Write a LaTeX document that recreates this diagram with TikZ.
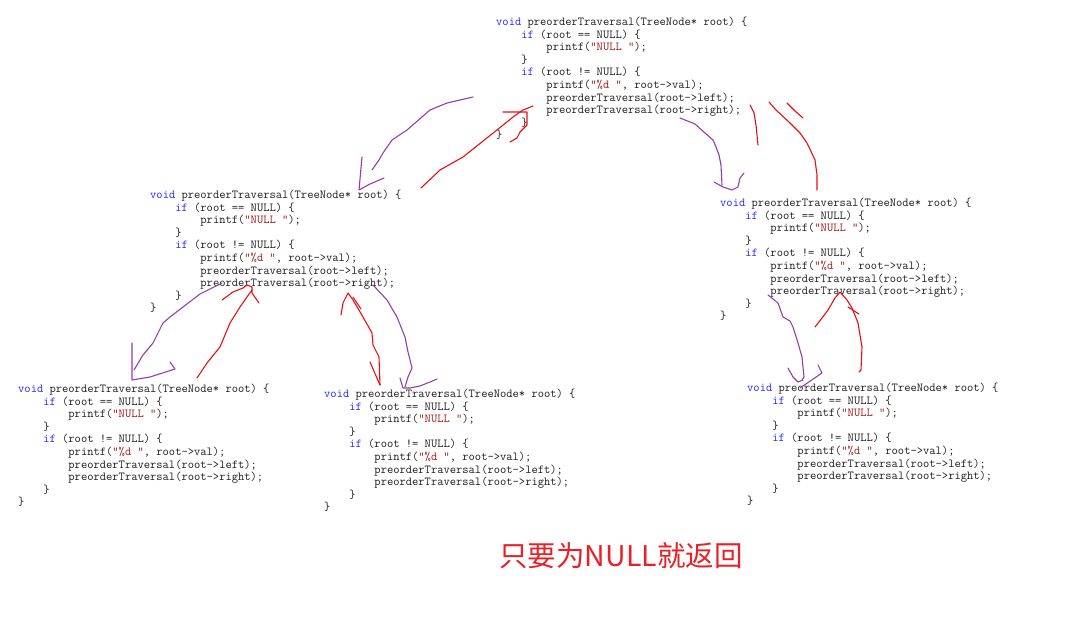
\documentclass[tikz,border=0pt]{standalone}
\usepackage{fontspec}
\newfontfamily\cjk{Noto Sans CJK SC}
\usetikzlibrary{positioning}

\definecolor{kwblue}{RGB}{40,40,250}
\definecolor{strred}{RGB}{165,25,25}
\definecolor{codegray}{RGB}{30,30,30}
\definecolor{penpurple}{RGB}{150,60,170}
\definecolor{penred}{RGB}{238,12,20}
\definecolor{notered}{RGB}{232,32,40}

\newcommand\kw[1]{\textcolor{kwblue}{#1}}
\newcommand\str[1]{\textcolor{strred}{#1}}
\newcommand\ind{\phantom{xxxx}}
\newcommand\preorderbody{%
  \kw{void} preorderTraversal(TreeNode* root) \{\\
  \ind\kw{if} (root == NULL) \{\\
  \ind\ind printf(\str{"NULL "});\\
  \ind\}\\
  \ind\kw{if} (root != NULL) \{\\
  \ind\ind printf(\str{"\%d "}, root->val);\\
  \ind\ind preorderTraversal(root->left);\\
  \ind\ind preorderTraversal(root->right);\\
  \ind\}\\
  \}}

\tikzset{
  % base of a multi-line node is its last line: shift by 9 lines
  code/.style={anchor=base west, yshift=-113.4pt, align=left, inner sep=0pt, text=codegray,
    font=\ttfamily\fontsize{12.2}{12.6}\selectfont},
  purplepen/.style={penpurple, line width=1.1pt, line join=round, line cap=round},
  redpen/.style={penred, line width=1.1pt, line join=round, line cap=round},
}

\begin{document}
\begin{tikzpicture}[x=1pt, y=-1pt]
\useasboundingbox[fill=white] (0,0) rectangle (1079,628);

% one copy of the function per call
\node[code] (root)       at (496,25.5)  {\preorderbody};
\node[code] (left)       at (150,198.5) {\preorderbody};
\node[code] (right)      at (720,206.5) {\preorderbody};
\node[code] (leftleft)   at (18,392.5)  {\preorderbody};
\node[code] (leftright)  at (324,397.5) {\preorderbody};
\node[code] (rightright) at (747,391.5) {\preorderbody};

\node[text=notered, font=\cjk\fontsize{28.5}{30}\selectfont] (note) at (621,556) {只要为NULL就返回};

% root -> left, and back
\draw[purplepen] (473,97) \foreach \x/\y in {447/103, 430/110, 407/130, 392/140, 383/153, 379/160, 372/170} { -- (\x,\y) };
\draw[purplepen] (362,157) \foreach \x/\y in {359/190, 370/184, 384/178} { -- (\x,\y) };
\draw[redpen] (421,188) \foreach \x/\y in {440/170, 463/157, 497/130, 513/117, 523/110, 533/106} { -- (\x,\y) };
\draw[redpen] (503,112) \foreach \x/\y in {527/112, 527/125, 520/132, 517/138, 510/142} { -- (\x,\y) };

% root -> right, and back
\draw[purplepen] (680,118) \foreach \x/\y in {695/124, 705/133, 713/140, 716/147, 719/155, 721/165, 722/185} { -- (\x,\y) };
\draw[purplepen] (714,182) \foreach \x/\y in {723/187, 732/190, 738/187, 740/178, 744/173} { -- (\x,\y) };
\draw[redpen] (750,105) \foreach \x/\y in {754/113, 756/125, 758/145} { -- (\x,\y) };
\draw[redpen] (769,102) \foreach \x/\y in {776/110, 790/123, 800/133, 807/143, 815/160, 817/175, 817/190} { -- (\x,\y) };
\draw[redpen] (787,103) \foreach \x/\y in {795/111, 803/118} { -- (\x,\y) };

% left -> leftleft, and back
\draw[purplepen] (222,283) \foreach \x/\y in {200/294, 183/307, 170/317, 163/323, 153/343, 143/355, 134/370} { -- (\x,\y) };
\draw[purplepen] (132,343) \foreach \x/\y in {132/380, 150/377, 175/369, 170/362} { -- (\x,\y) };
\draw[redpen] (197,378) \foreach \x/\y in {207/363, 220/347, 230/323, 240/307, 247/297, 252/290} { -- (\x,\y) };
\draw[redpen] (222,300) \foreach \x/\y in {233/292, 243/288, 247/285, 252/287, 252/293, 259/303} { -- (\x,\y) };

% left -> leftright, and back
\draw[purplepen] (373,285) \foreach \x/\y in {387/300, 397/317, 405/337, 408/352, 412/368, 408/377, 405/387} { -- (\x,\y) };
\draw[purplepen] (400,378) \foreach \x/\y in {403/388, 410/388, 420/386, 430/382, 437/379} { -- (\x,\y) };
\draw[redpen] (341,315) \foreach \x/\y in {343/303, 348/293, 353/300, 363/317, 372/333, 373/345, 379/357, 380/385} { -- (\x,\y) };
\draw[redpen] (353,297) -- (361,309);
\draw[redpen] (370,362) -- (380,385);

% right -> rightright, and back
\draw[purplepen] (768,295) \foreach \x/\y in {778/303, 783/317, 790/321, 793/327, 798/343, 802/357, 804/377, 802/380} { -- (\x,\y) };
\draw[purplepen] (788,368) \foreach \x/\y in {793/377, 798/382, 803/380} { -- (\x,\y) };
\draw[purplepen] (800,388) \foreach \x/\y in {822/373, 818/365} { -- (\x,\y) };
\draw[redpen] (815,327) \foreach \x/\y in {822/318, 828/310, 835/298, 840/292, 847/300, 852/308, 858/323, 862/347, 861/370, 859/372} { -- (\x,\y) };
\draw[redpen] (848,307) -- (859,314);
\end{tikzpicture}
\end{document}
